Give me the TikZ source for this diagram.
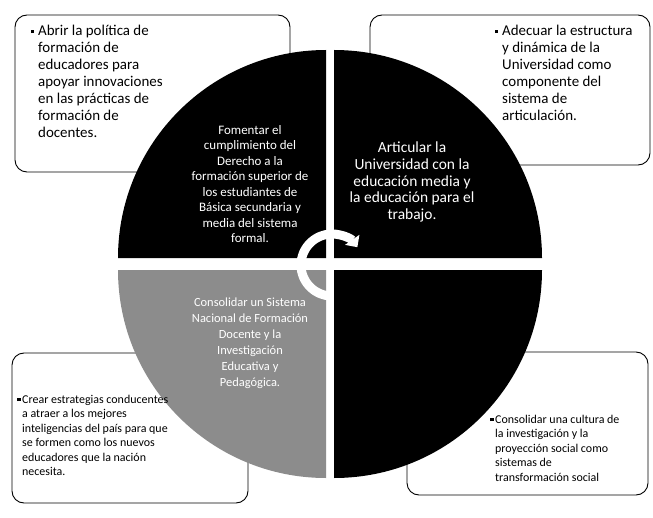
\documentclass[tikz,border=0pt]{standalone}
\usepackage{fontspec}
\setmainfont{Carlito}
\usetikzlibrary{arrows.meta}
\newcommand{\sqb}{\raisebox{2.5bp}{\rule{3.5bp}{3.5bp}}}
\begin{document}
\begin{tikzpicture}[x=1bp,y=1bp,yscale=-1]
\tikzset{
  cornerbox/.style={draw=black, line width=0.9bp, rounded corners=12bp, fill=white},
  boxtext/.style={align=left, anchor=north west, inner sep=0pt, font=\fontsize{15}{17}\selectfont},
  smalltext/.style={align=left, anchor=north west, inner sep=0pt, font=\fontsize{12}{14.5}\selectfont},
  quadtext/.style={align=center, text=white, inner sep=0pt},
  darkquad/.style={fill=black},
  grayquad/.style={fill=black!45},
  ring/.style={draw=white, line width=9bp}
}
\useasboundingbox (0,0) rectangle (653,518);
\fill[white] (0,0) rectangle (653,518);
% corner boxes
\draw[cornerbox] (15,15) rectangle (290,172);
\draw[cornerbox] (370,15) rectangle (650,165);
\draw[cornerbox] (12,353) rectangle (248,503);
\draw[cornerbox] (407,352) rectangle (648,495);
% quadrants
\fill[darkquad] (326,258) -- ++(180:208) arc[start angle=180,end angle=270,radius=208] -- cycle;
\fill[darkquad] (334,258) -- ++(270:208) arc[start angle=270,end angle=360,radius=208] -- cycle;
\fill[darkquad] (334,270) -- ++(0:208) arc[start angle=0,end angle=90,radius=208] -- cycle;
\fill[grayquad] (326,270) -- ++(90:208) arc[start angle=90,end angle=180,radius=208] -- cycle;
% central circular arrows
\coordinate (c) at (332,265);
\draw[ring, -{Triangle[width=17bp,length=9bp]}] (c) ++(180:31) arc[start angle=180,end angle=325,radius=31];
\draw[ring] (c) ++(180:31) arc[start angle=180,end angle=90,radius=31];
% corner box texts
\node[boxtext] (tltext) at (38,25) {\llap{\sqb\hspace{4bp}}Abrir la política de\\formación de\\educadores para\\apoyar innovaciones\\en las prácticas de\\formación de\\docentes.};
\node[boxtext] (trtext) at (502,25) {\llap{\sqb\hspace{4bp}}Adecuar la estructura\\y dinámica de la\\Universidad como\\componente del\\sistema de\\articulación.};
\node[smalltext] (bltext) at (22,395) {\llap{\sqb\hspace{1.5bp}}Crear estrategias conducentes\\a atraer a los mejores\\inteligencias del país para que\\se formen como los nuevos\\educadores que la nación\\necesita.};
\node[smalltext] (brtext) at (495,415) {\llap{\sqb\hspace{1.5bp}}Consolidar una cultura de\\la investigación y la\\proyección social como\\sistemas de\\transformación social};
% quadrant texts
\node[quadtext, font=\fontsize{13}{15.5}\selectfont] (q1) at (250,184) {Fomentar el\\cumplimiento del\\Derecho a la\\formación superior de\\los estudiantes de\\Básica secundaria y\\media del sistema\\formal.};
\node[quadtext, font=\fontsize{15.5}{17}\selectfont] (q2) at (412,182) {Articular la\\Universidad con la\\educación media y\\la educación para el\\trabajo.};
\node[quadtext, font=\fontsize{12.5}{16}\selectfont] (q3) at (250,343) {Consolidar un Sistema\\Nacional de Formación\\Docente y la\\Investigación\\Educativa y\\Pedagógica.};
\end{tikzpicture}
\end{document}
